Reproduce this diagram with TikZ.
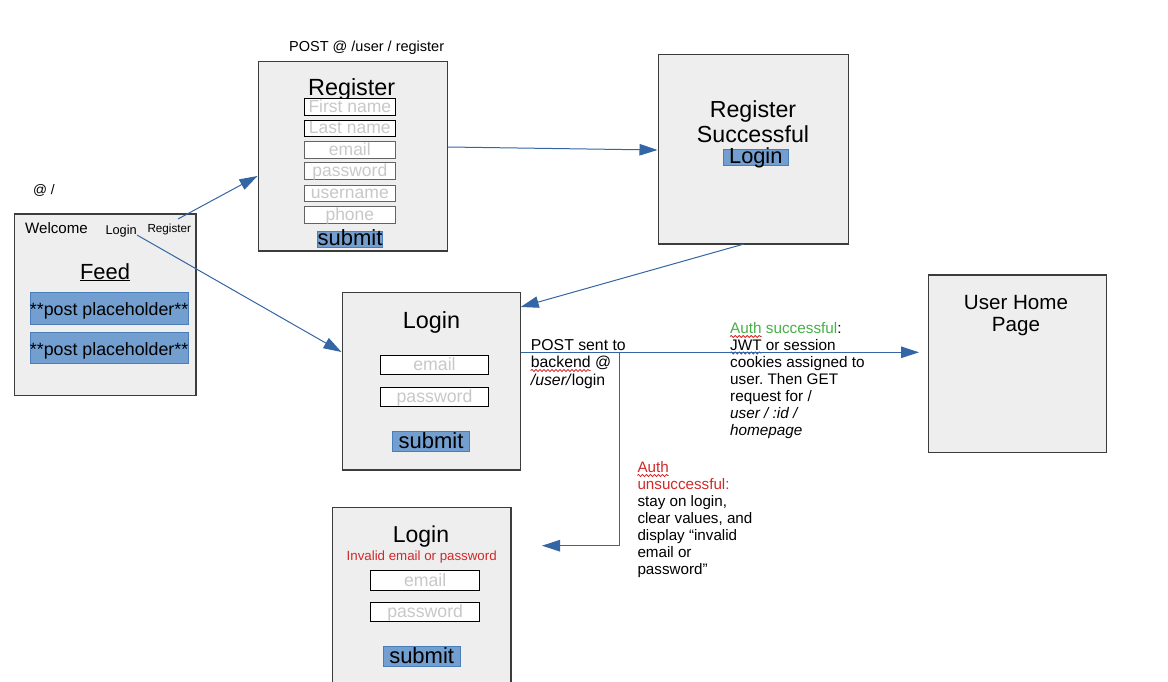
\documentclass[tikz,border=0pt]{standalone}
\usepackage{fontspec}
\setmainfont{Liberation Sans}
\frenchspacing
\usetikzlibrary{arrows.meta,decorations.pathmorphing}
\definecolor{scrfill}{HTML}{EEEEEE}
\definecolor{scrline}{HTML}{3C3C3C}
\definecolor{fieldtxt}{HTML}{C8C8C8}
\definecolor{btnfill}{HTML}{729FCF}
\definecolor{btnline}{HTML}{4A7EBB}
\definecolor{flowc}{HTML}{3465A4}
\definecolor{errred}{HTML}{D1292A}
\definecolor{okgreen}{HTML}{46AF46}
\newcommand{\myfs}[2]{\fontsize{#1}{#2}\selectfont}
\tikzset{
  screen/.style={draw=scrline, line width=1.2pt, fill=scrfill, inner sep=0pt, rectangle},
  field/.style={draw=black, fill=white, line width=1pt, inner sep=0pt, text=fieldtxt},
  rfield/.style={field, minimum width=91.7pt, text height=13.5pt, text depth=3pt, font=\myfs{17.5}{20}},
  lfield/.style={field, minimum width=108.4pt, text height=15.4pt, text depth=4pt, font=\myfs{17.7}{20}},
  btn/.style={fill=btnfill, draw=btnline, line width=0.8pt, inner sep=0pt},
  flow/.style={draw=flowc, line width=1pt, -{Triangle[length=18pt,width=11.5pt]}},
  lbl/.style={inner sep=0pt, anchor=base},
  lline/.style={inner sep=0pt, anchor=base west},
  squig/.style={draw=errred, line width=0.8pt, decorate, decoration={snake, amplitude=1.1pt, segment length=4pt}},
}
\begin{document}
\begin{tikzpicture}[x=1pt,y=-1pt]
\useasboundingbox (0,0) rectangle (1168,681);

% ---------- screens ----------
\node[screen, minimum width=181.3pt, minimum height=181.3pt] (welcome) at (105.35,304.65) {};
\node[screen, minimum width=189.4pt, minimum height=189.3pt] (reg) at (353,156.35) {};
\node[screen, minimum width=190pt, minimum height=189.7pt] (regok) at (753.3,149.15) {};
\node[screen, minimum width=178.4pt, minimum height=177.7pt] (login) at (431.5,381.15) {};
\node[screen, minimum width=178.4pt, minimum height=177.7pt] (home) at (1017.5,363.85) {};
\node[screen, minimum width=178.3pt, minimum height=187.7pt] (loginb) at (421.85,601.15) {};

% ---------- welcome screen ----------
\node[lbl, font=\myfs{13.8}{16}] (atroot) at (44,194) {@ /};
\node[lline, font=\myfs{15.1}{18}] (wel) at (25,233.3) {Welcome};
\node[lline, font=\myfs{12.8}{15}] (wlog) at (105.3,234) {Login};
\node[lline, font=\myfs{11.7}{14}] (wreg) at (147.3,232.3) {Register};
\node[lbl, font=\myfs{21.9}{26}] (feed) at (105,279) {\underline{Feed}};
\node[btn, minimum width=158.3pt, minimum height=31.6pt, text height=17pt, text depth=2.6pt, font=\myfs{17.8}{20}] (post1) at (109.15,308.5) {**post placeholder**};
\node[btn, minimum width=158.3pt, minimum height=31.6pt, text height=17pt, text depth=2.6pt, font=\myfs{17.8}{20}] (post2) at (109.15,347.8) {**post placeholder**};

% ---------- register screen ----------
\node[lline, font=\myfs{14.5}{17}] (postreg) at (289,51) {POST @ /user / register};
\node[lbl, font=\myfs{23.4}{28}] (regt) at (351.7,95.7) {Register};
\node[rfield] (ffirst) at (349.85,106.95) {First name};
\node[rfield] (flast) at (349.85,128.25) {Last name};
\node[rfield, draw=scrline!80] (femail) at (349.85,149.95) {email};
\node[rfield, draw=scrline!80] (fpass) at (349.85,170.95) {password};
\node[rfield, draw=scrline!80] (fuser) at (349.85,193.55) {username};
\node[rfield, draw=scrline!80] (fphone) at (349.85,214.95) {phone};
\node[btn, minimum width=64.6pt, text height=14pt, text depth=2.3pt, font=\myfs{22}{26}] (rsub) at (350,239.15) {submit};

% ---------- register successful ----------
\node[lbl, font=\myfs{23.2}{28}] (rst1) at (753,117.3) {Register};
\node[lbl, font=\myfs{23.2}{28}] (rst2) at (753,142.3) {Successful};
\node[btn, minimum width=65pt, text height=14.3pt, text depth=2pt, font=\myfs{21.8}{26}] (rlog) at (755.8,157.15) {Login};

% ---------- login screen ----------
\node[lbl, font=\myfs{23.4}{28}] (logt) at (431.5,328.3) {Login};
\node[lfield] (lemail) at (434.5,365) {email};
\node[lfield] (lpass) at (434.5,396.7) {password};
\node[btn, minimum width=76.6pt, text height=16.6pt, text depth=2.7pt, font=\myfs{22}{26}] (lsub) at (431,441.35) {submit};

% ---------- user home ----------
\node[lbl, font=\myfs{20.6}{24}] (hp1) at (1016,309) {User Home};
\node[lbl, font=\myfs{20.6}{24}] (hp2) at (1016,331.7) {Page};

% ---------- login failed ----------
\node[lbl, font=\myfs{23}{28}] (log2t) at (421,542.7) {Login};
\node[lbl, font=\myfs{13.3}{16}, text=errred] (inv) at (421.7,560.7) {Invalid email or password};
\node[lfield] (l2email) at (425.15,580.4) {email};
\node[lfield] (l2pass) at (425.15,612) {password};
\node[btn, minimum width=76.7pt, text height=16.6pt, text depth=2.7pt, font=\myfs{22}{26}] (l2sub) at (421.65,656.35) {submit};

% ---------- annotations ----------
\node[lline, font=\myfs{15.8}{18}] (ps1) at (530.7,350) {POST sent to};
\node[lline, font=\myfs{15.8}{18}] (ps2) at (530.7,367.3) {backend @};
\node[lline, font=\myfs{15.8}{18}] (ps3) at (530.7,385) {\textit{/user/}login};

\node[lline, font=\myfs{15.3}{18}] (as1) at (730,333) {\textcolor{okgreen}{Auth successful}:};
\node[lline, font=\myfs{15.3}{18}] (as2) at (730,350) {JWT or session};
\node[lline, font=\myfs{15.3}{18}] (as3) at (730,367) {cookies assigned to};
\node[lline, font=\myfs{15.3}{18}] (as4) at (730,384) {user. Then GET};
\node[lline, font=\myfs{15.3}{18}] (as5) at (730,401.5) {request for /};
\node[lline, font=\myfs{15.3}{18}] (as6) at (730,418.5) {\textit{user / :id /}};
\node[lline, font=\myfs{15.3}{18}] (as7) at (730,435.5) {\textit{homepage}};

\node[lline, font=\myfs{15.2}{18}] (au1) at (637.3,472) {\textcolor{errred}{Auth}};
\node[lline, font=\myfs{15.2}{18}] (au2) at (637.3,489) {\textcolor{errred}{unsuccessful:}};
\node[lline, font=\myfs{15.2}{18}] (au3) at (637.3,506) {stay on login,};
\node[lline, font=\myfs{15.2}{18}] (au4) at (637.3,523) {clear values, and};
\node[lline, font=\myfs{15.2}{18}] (au5) at (637.3,540) {display “invalid};
\node[lline, font=\myfs{15.2}{18}] (au6) at (637.3,557) {email or};
\node[lline, font=\myfs{15.2}{18}] (au7) at (637.3,574) {password”};

% spell-check squiggles
\draw[squig] (730,336.5) -- (761.5,336.5);
\draw[squig] (730,353) -- (761.5,353);
\draw[squig] (530.7,370.5) -- (590.5,370.5);
\draw[squig] (637.3,475.5) -- (668.6,475.5);

% ---------- connectors ----------
\coordinate (c1s) at (178,219);
\coordinate (c1e) at (257.5,176);
\coordinate (c2s) at (137,235);
\coordinate (c2e) at (341.5,352);
\coordinate (c3s) at (447.7,147);
\coordinate (c3e) at (657.5,150);
\coordinate (c4s) at (744,244);
\coordinate (c4e) at (520.7,307);
\coordinate (c5s) at (520.7,352.3);
\coordinate (c5e) at (919,352.3);
\coordinate (c6s) at (619,352.3);
\coordinate (c6e) at (542,545.7);

\draw[flow] (c1s) -- (c1e);
\draw[flow] (c2s) -- (c2e);
\draw[flow] (c3s) -- (c3e);
\draw[flow] (c4s) -- (c4e);
\draw[flow] (c5s) -- (c5e);
\draw[flow] (c6s) |- (c6e);
\end{tikzpicture}
\end{document}
